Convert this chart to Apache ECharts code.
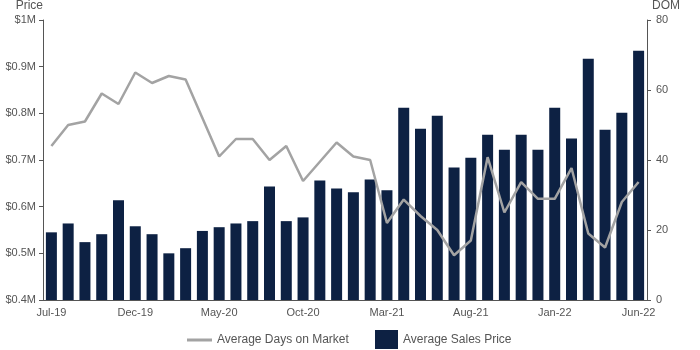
<!DOCTYPE html>
<html>
<head>
<meta charset="utf-8">
<script src="https://cdn.jsdelivr.net/npm/echarts@6/dist/echarts.min.js"></script>
<style>html,body{margin:0;padding:0;background:#fff;}#c{width:700px;height:350px;}</style>
</head>
<body>
<div id="c"></div>
<script>
var months = ['Jul-19','Aug-19','Sep-19','Oct-19','Nov-19','Dec-19','Jan-20','Feb-20','Mar-20','Apr-20','May-20','Jun-20',
  'Jul-20','Aug-20','Sep-20','Oct-20','Nov-20','Dec-20','Jan-21','Feb-21','Mar-21','Apr-21','May-21','Jun-21',
  'Jul-21','Aug-21','Sep-21','Oct-21','Nov-21','Dec-21','Jan-22','Feb-22','Mar-22','Apr-22','May-22','Jun-22'];
var avgSalesPrice = [0.545,0.564,0.524,0.541,0.614,0.558,0.541,0.500,0.511,0.548,0.556,0.564,
  0.569,0.643,0.569,0.577,0.656,0.639,0.631,0.658,0.635,0.812,0.767,0.795,
  0.684,0.705,0.754,0.722,0.754,0.722,0.812,0.746,0.917,0.765,0.801,0.934];
var avgDaysOnMarket = [44,50,51,59,56,65,62,64,63,52,41,46,
  46,40,44,34,39.5,45,41,40,22,28.7,24,20,
  12.8,17,40.8,25,33.7,28.9,28.9,37.7,19,15,28,33.7];
var priceTicks = {min:0.4, max:1.0, interval:0.1};
var domTicks = {min:0, max:80, interval:20};

var axisColor = '#555';
var labelColor = '#555';
var font = 'Liberation Sans, Arial, sans-serif';
var chart = echarts.init(document.getElementById('c'), null, {renderer:'canvas'});
chart.setOption({
  animation:false,
  textStyle:{fontFamily:font},
  grid:{left:43, right:53, top:20, bottom:50, containLabel:false},
  legend:[
    {data:[{name:'Average Days on Market', icon:'rect'}], left:187, top:334, padding:0, itemWidth:25, itemHeight:3,
     textStyle:{color:labelColor, fontSize:12, fontFamily:font}},
    {data:[{name:'Average Sales Price', icon:'rect'}], left:375, top:330, padding:0, itemWidth:23, itemHeight:19,
     textStyle:{color:labelColor, fontSize:12, fontFamily:font}}
  ],
  xAxis:{
    type:'category', data:months, boundaryGap:true,
    axisLine:{lineStyle:{color:axisColor, width:1}},
    axisTick:{alignWithLabel:true, interval:0, length:4, lineStyle:{color:axisColor}},
    axisLabel:{interval:4, color:labelColor, fontSize:11, margin:7, fontFamily:font}
  },
  yAxis:[
    {type:'value', min:priceTicks.min, max:priceTicks.max, interval:priceTicks.interval, position:'left',
     name:'Price', nameLocation:'end', nameGap:14,
     nameTextStyle:{color:labelColor, fontSize:12, align:'right', verticalAlign:'middle', fontFamily:font},
     axisLine:{show:true, lineStyle:{color:axisColor}},
     axisTick:{show:true, length:4, lineStyle:{color:axisColor}},
     splitLine:{show:false},
     axisLabel:{color:labelColor, fontSize:11, margin:7, fontFamily:font,
       formatter:function(v){return '$' + (+v.toFixed(1)) + 'M';}}
    },
    {type:'value', min:domTicks.min, max:domTicks.max, interval:domTicks.interval, position:'right',
     name:'DOM', nameLocation:'end', nameGap:14,
     nameTextStyle:{color:labelColor, fontSize:12, align:'left', verticalAlign:'middle', padding:[0,0,0,5], fontFamily:font},
     axisLine:{show:true, lineStyle:{color:axisColor}},
     axisTick:{show:true, length:4, lineStyle:{color:axisColor}},
     splitLine:{show:false},
     axisLabel:{color:labelColor, fontSize:11, margin:9, fontFamily:font}
    }
  ],
  series:[
    {name:'Average Sales Price', type:'bar', yAxisIndex:0, data:avgSalesPrice, barWidth:11,
     itemStyle:{color:'#0d2143'}, z:1},
    {name:'Average Days on Market', type:'line', yAxisIndex:1, data:avgDaysOnMarket,
     symbol:'none', lineStyle:{color:'#a3a3a3', width:2.5}, itemStyle:{color:'#a3a3a3'}, z:3}
  ]
});
</script>
</body>
</html>
